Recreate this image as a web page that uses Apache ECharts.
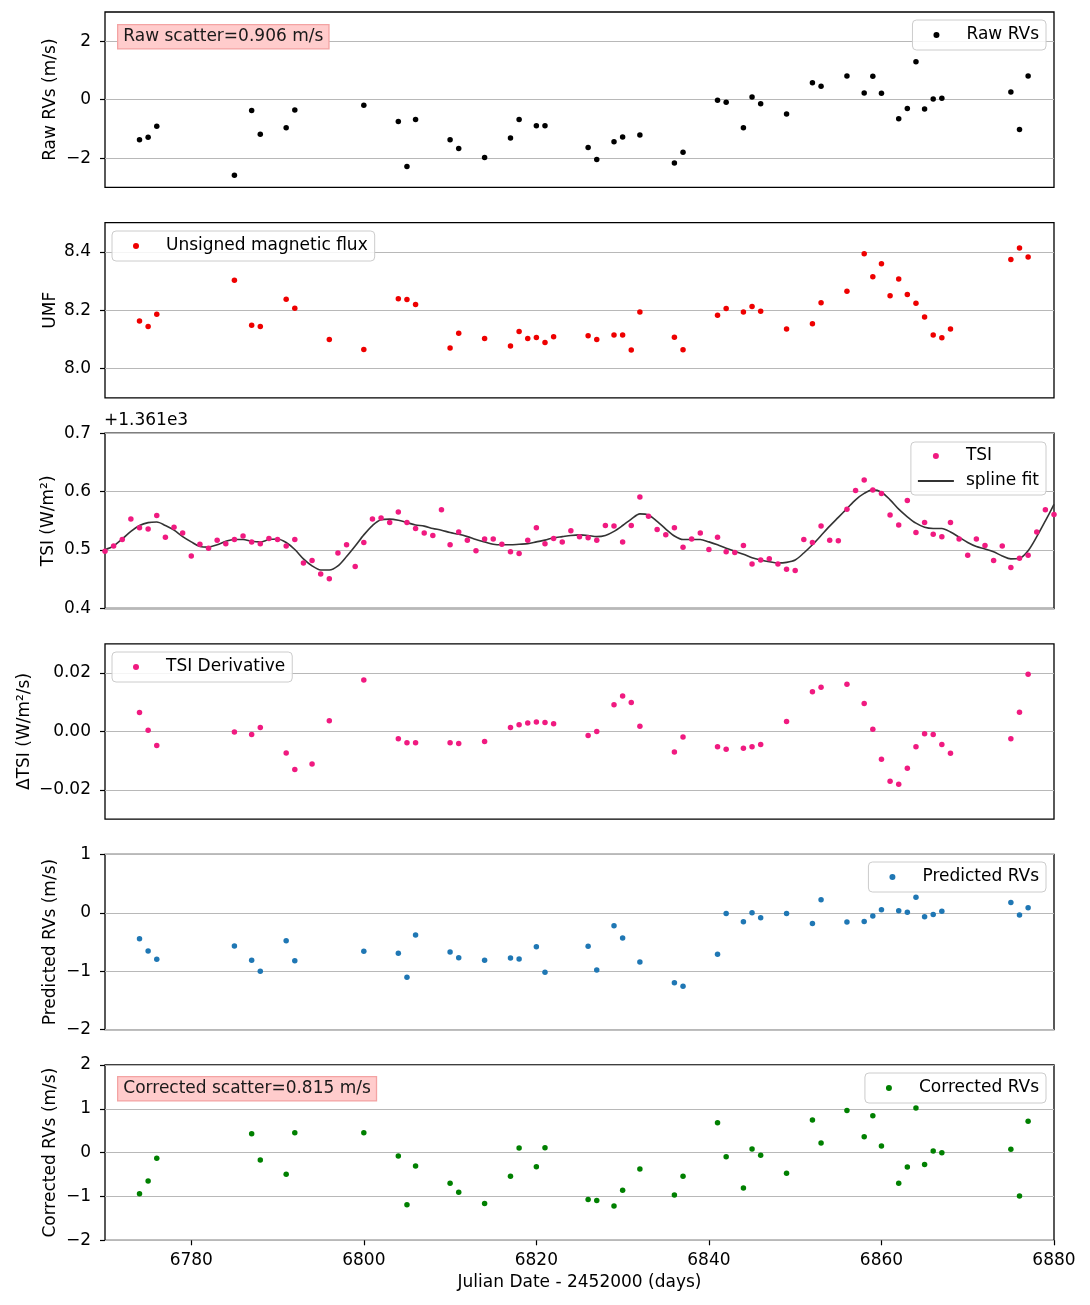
<!DOCTYPE html>
<html><head><meta charset="utf-8">
<script src="https://cdn.jsdelivr.net/npm/echarts@6/dist/echarts.min.js"></script>
<style>html,body{margin:0;padding:0;background:#fff}#c{width:1090px;height:1305px}</style>
</head><body><div id="c"></div><script>
// ---------- data ----------
const rvDays = [6774,6775,6776,6785,6787,6788,6791,6792,6800,6804,6805,6806,6810,6811,6814,6817,6818,6820,6821,
  6826,6827,6829,6830,6832,6836,6837,6841,6842,6844,6845,6846,6849,6852,6853,6856,6858,6859,6860,6862,6863,6864,6865,6866,6867,6875,6876,6877];
const rawRV = [-1.37,-1.29,-0.91,-2.59,-0.37,-1.18,-0.96,-0.35,-0.19,-0.75,-2.29,-0.68,-1.37,-1.67,-1.98,-1.31,-0.68,-0.89,-0.89,
  -1.64,-2.05,-1.44,-1.28,-1.21,-2.17,-1.80,-0.02,-0.09,-0.96,0.09,-0.14,-0.49,0.58,0.46,0.81,0.23,0.80,0.22,-0.65,-0.30,1.30,-0.32,0.02,0.05,0.26,-1.02,0.81];
const predRV = [-0.443,-0.653,-0.795,-0.568,-0.812,-1.0,-0.477,-0.818,-0.658,-0.693,-1.102,-0.38,-0.67,-0.767,-0.812,-0.772,-0.789,-0.579,-1.016,
  -0.573,-0.977,-0.221,-0.431,-0.84,-1.198,-1.255,-0.709,-0.011,-0.153,0.0,-0.085,-0.011,-0.181,0.222,-0.158,-0.147,-0.056,0.051,0.034,0.012,0.267,-0.068,-0.028,0.029,0.177,-0.039,0.085];
const corrRV = [-0.94,-0.645,-0.13,-2.02,0.433,-0.167,-0.494,0.456,0.456,-0.076,-1.19,-0.304,-0.70,-0.904,-1.162,-0.54,0.106,-0.319,0.114,
  -1.07,-1.093,-1.215,-0.858,-0.372,-0.964,-0.54,0.683,-0.091,-0.805,0.083,-0.061,-0.471,0.744,0.22,0.964,0.364,0.843,0.152,-0.699,-0.326,1.017,-0.273,0.038,0.0,0.076,-0.987,0.714];

const umfDays = [6774,6775,6776,6785,6787,6788,6791,6792,6796,6800,6804,6805,6806,6810,6811,6814,6817,6818,6819,6820,6821,6822,
  6826,6827,6829,6830,6831,6832,6836,6837,6841,6842,6844,6845,6846,6849,6852,6853,6856,6858,6859,6860,6861,6862,6863,6864,6865,6866,6867,6868,6875,6876,6877];
const umf = [8.163,8.144,8.186,8.303,8.149,8.144,8.238,8.207,8.100,8.066,8.239,8.237,8.220,8.071,8.121,8.103,8.078,8.127,8.103,8.107,8.090,8.109,
  8.113,8.100,8.115,8.115,8.064,8.194,8.108,8.065,8.183,8.206,8.194,8.213,8.197,8.136,8.154,8.226,8.265,8.393,8.315,8.359,8.250,8.307,8.254,8.224,8.177,8.115,8.106,8.136,8.374,8.413,8.382];

const derivDays = [6774,6775,6776,6785,6787,6788,6791,6792,6794,6796,6800,6804,6805,6806,6810,6811,6814,6817,6818,6819,6820,6821,6822,
  6826,6827,6829,6830,6831,6832,6836,6837,6841,6842,6844,6845,6846,6849,6852,6853,6856,6858,6859,6860,6861,6862,6863,6864,6865,6866,6867,6868,6875,6876,6877];
const tsiDeriv = [0.00647,0.00045,-0.00477,-0.0002,-0.00102,0.00136,-0.00736,-0.01305,-0.01111,0.00365,0.01762,-0.00249,-0.00385,-0.00385,-0.00385,-0.00409,-0.00341,0.00136,0.00228,0.00286,0.0032,0.00307,0.00262,
  -0.00136,0.0,0.0091,0.01216,0.00988,0.00182,-0.00702,-0.00193,-0.00522,-0.00613,-0.00579,-0.00522,-0.00443,0.00341,0.01363,0.01511,0.01613,0.00954,0.00079,-0.00954,-0.01704,-0.01806,-0.01261,-0.00522,-0.00079,-0.00102,-0.00443,-0.0075,-0.00249,0.0066,0.01955];

// TSI shown as offset from 1361 W/m^2 (axis offset label "+1.361e3")
const tsiBase = 1361;
const tsiDays = [6770,6771,6772,6773,6774,6775,6776,6777,6778,6779,6780,6781,6782,6783,6784,6785,6786,6787,6788,6789,
  6790,6791,6792,6793,6794,6795,6796,6797,6798,6799,6800,6801,6802,6803,6804,6805,6806,6807,6808,6809,
  6810,6811,6812,6813,6814,6815,6816,6817,6818,6819,6820,6821,6822,6823,6824,6825,6826,6827,6828,6829,
  6830,6831,6832,6833,6834,6835,6836,6837,6838,6839,6840,6841,6842,6843,6844,6845,6846,6847,6848,6849,
  6850,6851,6852,6853,6854,6855,6856,6857,6858,6859,6860,6861,6862,6863,6864,6865,6866,6867,6868,6869,
  6870,6871,6872,6873,6874,6875,6876,6877,6878,6879,6880];
const tsiOffset = [0.498,0.507,0.518,0.553,0.538,0.536,0.559,0.522,0.539,0.529,0.490,0.510,0.503,0.517,0.511,0.518,0.524,0.514,0.511,0.520,
  0.518,0.507,0.518,0.478,0.482,0.459,0.451,0.495,0.509,0.472,0.513,0.553,0.555,0.547,0.565,0.547,0.537,0.529,0.525,0.569,
  0.509,0.531,0.517,0.499,0.519,0.519,0.510,0.497,0.494,0.517,0.538,0.511,0.520,0.514,0.533,0.523,0.521,0.517,0.542,0.541,
  0.514,0.542,0.591,0.558,0.535,0.526,0.538,0.505,0.519,0.529,0.501,0.522,0.497,0.496,0.508,0.476,0.483,0.485,0.476,0.467,
  0.465,0.518,0.513,0.541,0.517,0.516,0.570,0.602,0.620,0.603,0.597,0.560,0.543,0.585,0.530,0.547,0.527,0.523,0.547,0.519,
  0.491,0.519,0.508,0.482,0.507,0.470,0.486,0.491,0.531,0.569,0.561];
const splineOffset = [0.5006,0.507,0.519,0.532,0.542,0.547,0.548,0.542,0.534,0.523,0.514,0.506,0.505,0.509,0.515,0.518,0.518,0.515,0.514,0.518,
  0.519,0.513,0.501,0.485,0.473,0.466,0.466,0.473,0.489,0.507,0.526,0.542,0.552,0.553,0.551,0.547,0.543,0.541,0.537,0.534,
  0.530,0.527,0.523,0.518,0.514,0.510,0.509,0.509,0.510,0.511,0.514,0.517,0.521,0.523,0.525,0.526,0.525,0.523,0.525,0.532,
  0.542,0.553,0.562,0.560,0.549,0.536,0.524,0.518,0.518,0.518,0.514,0.509,0.503,0.498,0.493,0.487,0.483,0.480,0.478,0.479,
  0.483,0.495,0.509,0.525,0.541,0.556,0.571,0.586,0.597,0.603,0.599,0.586,0.570,0.557,0.546,0.539,0.537,0.537,0.531,0.522,
  0.513,0.506,0.502,0.497,0.490,0.485,0.486,0.499,0.523,0.550,0.578];

const xTicks = [6780,6800,6820,6840,6860,6880];
const yTicks = [[-2,0,2],[8.0,8.2,8.4],[0.4,0.5,0.6,0.7],[-0.02,0,0.02],[-2,-1,0,1],[-2,-1,0,1,2]];
const yRanges = [[-3,3],[7.9,8.5],[0.4,0.7],[-0.03,0.03],[-2,1],[-2,2]];
const yDecimals = [0,1,1,2,0,0];
const yNames = ['Raw RVs (m/s)','UMF','TSI (W/m\u00B2)','\u0394TSI (W/m\u00B2/s)','Predicted RVs (m/s)','Corrected RVs (m/s)'];
const yNameGaps = [46,46,48,72,46,46];

// ---------- layout / style ----------
const FONT = 'DejaVu Sans';
const FS = 17;
const L = 105, W = 949, H = 175.3;
const tops = [12, 222.6, 433.2, 643.8, 854.4, 1065];
const pink = '#f01a80';
const minus = s => s.replace('-', '\u2212');

const grids = tops.map(t => ({left: L, top: t, width: W, height: H, show: true,
  borderColor: '#000', borderWidth: 1.3, backgroundColor: 'transparent'}));

const xAxes = tops.map((t, i) => ({
  type: 'value', gridIndex: i, min: 6770, max: 6880,
  axisLine: {show: false, onZero: false}, splitLine: {show: false},
  axisTick: {show: i === 5, customValues: xTicks, length: 5, lineStyle: {color: '#000', width: 1.2}},
  axisLabel: {show: i === 5, customValues: xTicks, fontSize: FS, fontFamily: FONT, color: '#000', margin: 12,
    formatter: v => String(v)},
  name: i === 5 ? 'Julian Date - 2452000 (days)' : '', nameLocation: 'middle', nameGap: 34,
  nameMoveOverlap: false,
  nameTextStyle: {fontSize: FS, fontFamily: FONT, color: '#000'}
}));

const yAxes = tops.map((t, i) => ({
  type: 'value', gridIndex: i, min: yRanges[i][0], max: yRanges[i][1],
  axisLine: {show: false, onZero: false},
  axisTick: {show: true, customValues: yTicks[i], length: 5, lineStyle: {color: '#000', width: 1.2}},
  axisLabel: {customValues: yTicks[i], fontSize: FS, fontFamily: FONT, color: '#000', margin: 14,
    formatter: v => minus(Number(v).toFixed(yDecimals[i]))},
  splitLine: {show: true, lineStyle: {color: '#b8b8b8', width: 1.2}},
  name: yNames[i], nameLocation: 'middle', nameGap: yNameGaps[i], nameMoveOverlap: false,
  nameTextStyle: {fontSize: FS, fontFamily: FONT, color: '#000'}
}));

const pairs = (xs, ys) => xs.map((x, k) => [x, ys[k]]);
const scatter = (name, i, xs, ys, color) => ({
  name, type: 'scatter', xAxisIndex: i, yAxisIndex: i, data: pairs(xs, ys),
  symbol: 'circle', symbolSize: 5.5, itemStyle: {color, opacity: 1}, z: 3
});

const series = [
  scatter('Raw RVs', 0, rvDays, rawRV, '#000'),
  scatter('Unsigned magnetic flux', 1, umfDays, umf, '#ee0000'),
  scatter('TSI', 2, tsiDays, tsiOffset, pink),
  {name: 'spline fit', type: 'line', xAxisIndex: 2, yAxisIndex: 2, data: pairs(tsiDays, splineOffset),
   symbol: 'none', smooth: 0.3, lineStyle: {color: '#333', width: 1.6}, itemStyle: {color: '#333'}, z: 2},
  scatter('TSI Derivative', 3, derivDays, tsiDeriv, pink),
  scatter('Predicted RVs', 4, rvDays, predRV, '#1f77b4'),
  scatter('Corrected RVs', 5, rvDays, corrRV, '#008000')
];

// single-dot legends: the dot's own bounds set the box, so the left padding includes the empty handle space
const legendBase = {
  orient: 'vertical', selectedMode: false,
  backgroundColor: 'rgba(255,255,255,0.85)', borderColor: '#cccccc', borderWidth: 1, borderRadius: 4,
  padding: [5, 7, 5, 21], itemWidth: 36, itemHeight: 6, itemGap: 5,
  textStyle: {fontSize: FS, fontFamily: FONT, color: '#000', lineHeight: 20, padding: [0, 0, 0, 7]}
};
const legends = [
  Object.assign({}, legendBase, {data: ['Raw RVs'], right: 44, top: 20}),
  Object.assign({}, legendBase, {data: ['Unsigned magnetic flux'], left: 112, top: 231}),
  Object.assign({}, legendBase, {data: ['TSI', {name: 'spline fit', itemStyle: {opacity: 0}}], right: 44, top: 442,
    padding: [4, 7, 4, 6]}),
  Object.assign({}, legendBase, {data: ['TSI Derivative'], left: 112, top: 652}),
  Object.assign({}, legendBase, {data: ['Predicted RVs'], right: 44, top: 862}),
  Object.assign({}, legendBase, {data: ['Corrected RVs'], right: 44, top: 1073})
];

const boxStyle = {fontSize: FS, fontFamily: FONT, fill: '#1a1a1a', backgroundColor: '#ffcccc',
  borderColor: '#f3a3a3', borderWidth: 1.3, padding: [3, 5, 3, 5]};
const graphic = [
  {type: 'text', left: 117, top: 24, z: 10, style: Object.assign({text: 'Raw scatter=0.906 m/s'}, boxStyle)},
  {type: 'text', left: 117, top: 1076, z: 10, style: Object.assign({text: 'Corrected scatter=0.815 m/s'}, boxStyle)},
  {type: 'text', left: 104, top: 412, style: {text: '+1.361e3', fontSize: FS, fontFamily: FONT, fill: '#000'}}
];

const chart = echarts.init(document.getElementById('c'));
chart.setOption({
  animation: false, backgroundColor: '#fff',
  grid: grids, xAxis: xAxes, yAxis: yAxes, series, legend: legends, graphic
});
</script></body></html>
